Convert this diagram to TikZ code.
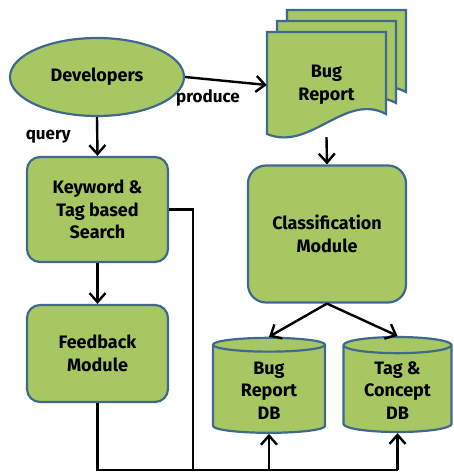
\documentclass[tikz,border=0pt]{standalone}
\usepackage{fontspec}
\setmainfont{Fira Sans}
\usepackage{tikz}
\usetikzlibrary{arrows.meta,shapes.geometric}
\tikzset {>={Straight Barb[length=9pt,width=16pt,line width=2.4pt]}}
\definecolor{leaf}{HTML}{A6C762}
\definecolor{rim}{HTML}{41698F}
\tikzset{
  lbl/.style={font=\fontsize{18}{22.5}\selectfont\bfseries},
  box/.style={draw=rim,line width=2.2pt,fill=leaf,rounded corners=13pt,align=center,lbl},
  drum/.style={cylinder,shape border rotate=90,aspect=0.22,draw=rim,line width=2.2pt,
    fill=leaf,align=center,lbl},
  sheet/.style={draw=rim,line width=2.2pt,fill=leaf},
  wire/.style={line width=2.4pt},
}

\begin{document}
\begin{tikzpicture}[x=1pt,y=-1pt]
\useasboundingbox (0,0) rectangle (453,473);
% bug report stack
\foreach \dx/\dy in {20/-22,10/-11,0/0}
  \draw[sheet,shift={(\dx,\dy)}] (267,32) -- (386,32) -- (386,114)
    .. controls (345,92) and (310,152) .. (267,134) -- cycle;
\node[align=center,lbl,minimum width=119pt,minimum height=104pt] (bug) at (326.5,85) {Bug\\Report};
\node[ellipse,draw=rim,line width=2.2pt,fill=leaf,minimum width=174pt,minimum height=78pt,lbl] (dev) at (97,77) {Developers};
\node[box,minimum width=141pt,minimum height=105pt] (kw) at (97.5,209.5) {Keyword \&\\Tag based\\Search};
\node[box,minimum width=141pt,minimum height=97pt] (fb) at (97.5,353.5) {Feedback\\Module};
\node[box,rounded corners=18pt,minimum width=158pt,minimum height=137pt] (cls) at (327,234) {Classification\\Module};
\node[drum,minimum width=112pt,minimum height=95pt] (brdb) at (269,390.5) {Bug\\Report\\DB};
\node[drum,minimum width=108pt,minimum height=95pt] (tagdb) at (397.5,390.5) {Tag \&\\Concept\\DB};
% connectors
\draw[wire,->] (dev.east) -- node[below,pos=0.28,yshift=-6pt,font=\fontsize{17}{19}\selectfont\bfseries] {produce} (bug.west);
\draw[wire,->] (dev.south) -- node[left,pos=0.5,xshift=-22pt,font=\fontsize{17}{19}\selectfont\bfseries] {query} (kw.north);
\draw[wire,->] (kw.south) -- (fb.north);
\draw[wire,->] (bug.south) -- (cls.north);
\draw[wire,->] (cls.south) -- (brdb.north);
\draw[wire,->] (cls.south) -- (tagdb.north);
\coordinate (bus) at (193,470);
\draw[wire] (kw.east) -| (bus);
\draw[wire] (fb.south) |- (bus) -- (tagdb.south |- bus);
\draw[wire,->] (brdb.south |- bus) -- (brdb.south);
\draw[wire,->] (tagdb.south |- bus) -- (tagdb.south);
\end{tikzpicture}
\end{document}
